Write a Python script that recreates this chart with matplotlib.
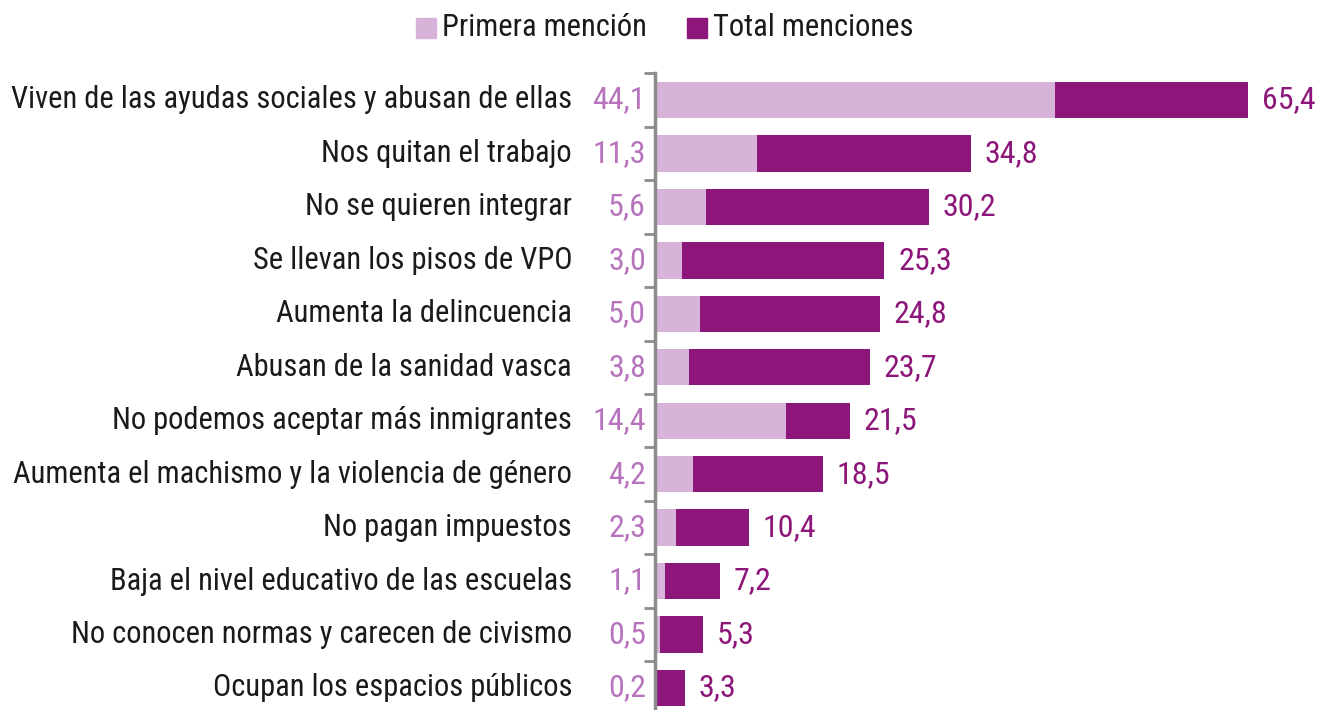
import matplotlib
matplotlib.use("Agg")
import matplotlib.pyplot as plt

# categories, top to bottom
categories = [
    "Viven de las ayudas sociales y abusan de ellas",
    "Nos quitan el trabajo",
    "No se quieren integrar",
    "Se llevan los pisos de VPO",
    "Aumenta la delincuencia",
    "Abusan de la sanidad vasca",
    "No podemos aceptar más inmigrantes",
    "Aumenta el machismo y la violencia de género",
    "No pagan impuestos",
    "Baja el nivel educativo de las escuelas",
    "No conocen normas y carecen de civismo",
    "Ocupan los espacios públicos",
]
primera = [44.1, 11.3, 5.6, 3.0, 5.0, 3.8, 14.4, 4.2, 2.3, 1.1, 0.5, 0.2]
total = [65.4, 34.8, 30.2, 25.3, 24.8, 23.7, 21.5, 18.5, 10.4, 7.2, 5.3, 3.3]

light = "#d7b2d9"
dark = "#8c1679"
light_txt = "#b774bd"
ink = "#1a1a1a"

plt.rcParams["font.family"] = ["Roboto Condensed", "DejaVu Sans"]

W, H = 1319., 710.
fig = plt.figure(figsize=(W / 100, H / 100), dpi=100)

# axes: x=0 at 655 px, ~9.07 px per unit, row pitch ~53.45 px
pitch = 53.45
top = 100 - pitch / 2
bot = top + pitch * len(categories)
ax = fig.add_axes([655 / W, 1 - bot / H, (W - 655) / W, (bot - top) / H])

pos = list(range(len(categories)))
ax.barh(pos, total, height=0.68, color=dark)
ax.barh(pos, primera, height=0.68, color=light)

ax.set_ylim(len(categories) - 0.5, -0.5)
ax.set_xlim(0, (W - 655) / 9.07)

fs = 22
for i in pos:
    ax.text(total[i] + 1.5, i, f"{total[i]:.1f}".replace(".", ","),
            va="center", ha="left", color=dark, fontsize=fs + 1)
    ax.text(-1.0, i, f"{primera[i]:.1f}".replace(".", ","),
            va="center", ha="right", color=light_txt, fontsize=fs + 1)
    ax.text(-9.15, i, categories[i], va="center", ha="right",
            color=ink, fontsize=fs)

for s in ["top", "right", "bottom"]:
    ax.spines[s].set_visible(False)
ax.spines["left"].set_color("#8c8c8c")
ax.spines["left"].set_linewidth(2.5)
ax.set_xticks([])
ax.set_yticks([p - 0.5 for p in pos] + [len(pos) - 0.5])
ax.set_yticklabels([])
ax.tick_params(axis="y", length=8, width=2, color="#8c8c8c")

# legend at top, drawn in figure pixels
ly = 1 - 28 / H
for x0, col, lab in [(416, light, "Primera mención"), (687, dark, "Total menciones")]:
    fig.patches.append(plt.Rectangle((x0 / W, ly - 10 / H), 20 / W, 20 / H,
                                     transform=fig.transFigure, color=col))
    fig.text((x0 + 26) / W, ly, lab, va="center", ha="left",
             fontsize=fs, color=ink)

fig.savefig("out.png", dpi=100)
